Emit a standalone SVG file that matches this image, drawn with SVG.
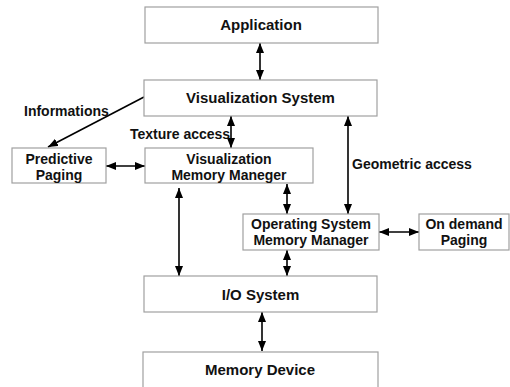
<svg xmlns="http://www.w3.org/2000/svg" width="510" height="387" viewBox="0 0 510 387">
<defs>
<marker id="ah" viewBox="0 0 10 8" refX="10" refY="4" markerWidth="10" markerHeight="8" markerUnits="userSpaceOnUse" orient="auto-start-reverse">
<path d="M0,0 L10,4 L0,8 z" fill="#000"/>
</marker>
</defs>
<style>
.box{fill:#fff;stroke:#a0a0a0;stroke-width:1.2}
.t{font-family:"Liberation Sans",Arial,sans-serif;font-weight:bold;fill:#111}
.big{font-size:15px;text-anchor:middle}
.mid{font-size:14px;text-anchor:middle}
.lbl{font-size:14px}
.c line{stroke:#000;stroke-width:1.6;fill:none}
</style>
<rect width="510" height="387" fill="#fff"/>
<g id="connectors" class="c">
<line x1="260" y1="43" x2="260" y2="80" marker-start="url(#ah)" marker-end="url(#ah)"/>
<line x1="144" y1="97" x2="48" y2="147" marker-end="url(#ah)"/>
<line x1="231" y1="116" x2="231" y2="148" marker-start="url(#ah)" marker-end="url(#ah)"/>
<line x1="106" y1="166" x2="145" y2="166" marker-start="url(#ah)" marker-end="url(#ah)"/>
<line x1="348" y1="116" x2="348" y2="214" marker-start="url(#ah)" marker-end="url(#ah)"/>
<line x1="287" y1="184" x2="287" y2="214" marker-start="url(#ah)" marker-end="url(#ah)"/>
<line x1="379" y1="232" x2="419" y2="232" marker-start="url(#ah)" marker-end="url(#ah)"/>
<line x1="179" y1="188" x2="179" y2="276" marker-start="url(#ah)" marker-end="url(#ah)"/>
<line x1="287" y1="250" x2="287" y2="276" marker-start="url(#ah)" marker-end="url(#ah)"/>
<line x1="262" y1="312" x2="262" y2="351" marker-start="url(#ah)" marker-end="url(#ah)"/>
</g>
<g id="application">
<rect class="box" x="145" y="7" width="233" height="36"/>
<text class="t big" x="261" y="30">Application</text>
</g>
<g id="visualization-system">
<rect class="box" x="144" y="80" width="233" height="36"/>
<text class="t big" x="260.5" y="103">Visualization System</text>
</g>
<g id="predictive-paging">
<rect class="box" x="12" y="148" width="94" height="35"/>
<text class="t mid" x="59" y="164">Predictive</text>
<text class="t mid" x="59" y="180">Paging</text>
</g>
<g id="visualization-memory-manager">
<rect class="box" x="145" y="148" width="168" height="35"/>
<text class="t mid" x="229" y="164">Visualization</text>
<text class="t mid" x="229" y="180">Memory Maneger</text>
</g>
<g id="os-memory-manager">
<rect class="box" x="243" y="214" width="136" height="36"/>
<text class="t mid" x="311" y="229">Operating System</text>
<text class="t mid" x="311" y="245">Memory Manager</text>
</g>
<g id="on-demand-paging">
<rect class="box" x="419" y="214" width="90" height="36"/>
<text class="t mid" x="464" y="229">On demand</text>
<text class="t mid" x="464" y="245">Paging</text>
</g>
<g id="io-system">
<rect class="box" x="144" y="276" width="233" height="36"/>
<text class="t big" x="260.5" y="300">I/O System</text>
</g>
<g id="memory-device">
<rect class="box" x="143" y="352" width="235" height="45"/>
<text class="t big" x="260" y="375">Memory Device</text>
</g>
<g id="labels">
<text class="t lbl" x="24" y="116">Informations</text>
<text class="t lbl" x="130" y="139">Texture access</text>
<text class="t lbl" x="352" y="169">Geometric access</text>
</g>
</svg>
